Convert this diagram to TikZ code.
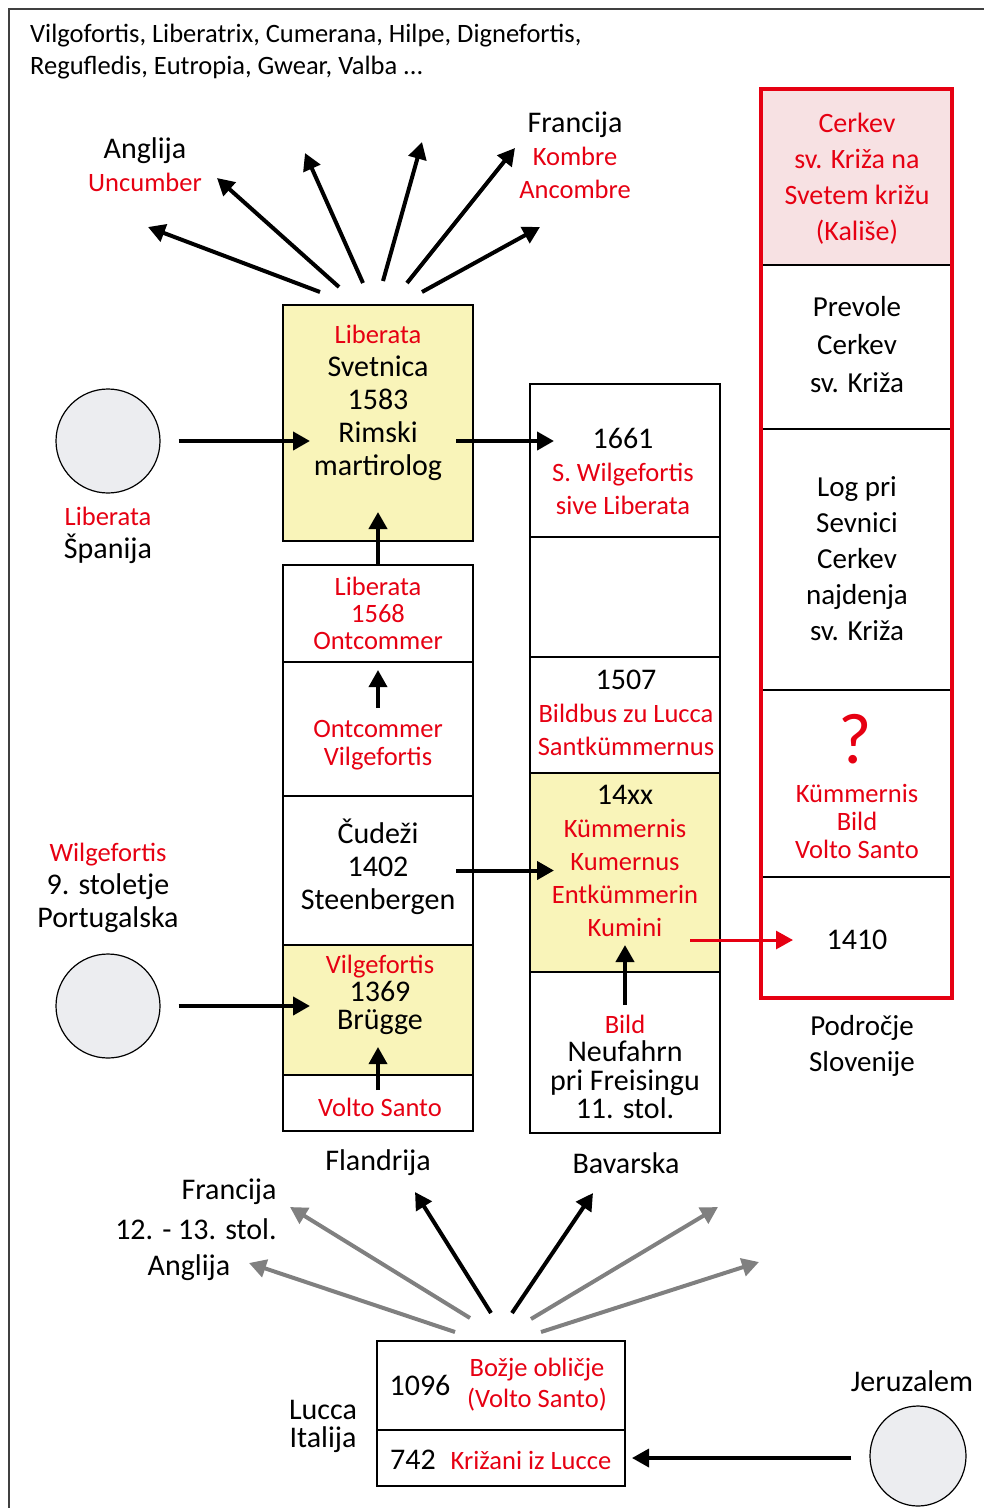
\documentclass[tikz,border=0pt]{standalone}
\usepackage{fontspec}
\setmainfont{Carlito}
\usepackage{xcolor}
\usetikzlibrary{arrows.meta,positioning,shapes.geometric}
\definecolor{txtred}{RGB}{230,0,18}
\definecolor{boxyellow}{RGB}{249,244,185}
\definecolor{boxpink}{RGB}{247,225,227}
\definecolor{circgray}{RGB}{236,237,240}
\definecolor{arrgray}{RGB}{128,128,128}
\newcommand{\rtxt}[1]{{\color{txtred}\fontsize{26.5}{31}\selectfont #1}}

\begin{document}
\begin{tikzpicture}[x=1pt,y=-1pt,
    cell/.style={draw, line width=1.3pt, minimum width=190pt, inner sep=0pt, outer sep=0pt, anchor=north west},
    lbl/.style={align=center, font=\fontsize{30}{33}\selectfont, inner sep=0pt},
    rlbl/.style={align=center, text=txtred, font=\fontsize{26.5}{31}\selectfont, inner sep=0pt},
    arr/.style={line width=4pt, -{Triangle[length=17pt,width=18pt]}},
    garr/.style={arr, arrgray},
    place/.style={circle, draw, line width=1.2pt, fill=circgray, minimum size=104pt, inner sep=0pt}]
    \useasboundingbox (0,0) rectangle (984,1508);
    \draw[line width=2pt, black!75] (9,1508) -- (9,9) -- (984,9);

    \node[lbl, align=left, anchor=west, font=\fontsize{26.5}{32}\selectfont] (names) at (30,52)
        {Vilgofortis, Liberatrix, Cumerana, Hilpe, Dignefortis,\\Regufledis, Eutropia, Gwear, Valba ...};

    % left column
    \node[cell, fill=boxyellow, minimum height=236pt] (svet) at (283,305) {};
    \node[cell, minimum height=97pt] (lib68) at (283,565) {};
    \node[cell, minimum height=134pt] (ontc) at (283,662) {};
    \node[cell, minimum height=149pt] (cud) at (283,796) {};
    \node[cell, fill=boxyellow, minimum height=130pt] (vil69) at (283,945) {};
    \node[cell, minimum height=56pt] (volto) at (283,1075) {};

    % right column
    \node[cell, minimum height=153pt] (y1661) at (530,384) {};
    \node[cell, minimum height=120pt] (blank) at (530,537) {};
    \node[cell, minimum height=116pt] (y1507) at (530,657) {};
    \node[cell, fill=boxyellow, minimum height=199pt] (y14xx) at (530,773) {};
    \node[cell, minimum height=161pt] (bild) at (530,972) {};

    % Slovenia column
    \node[cell, fill=boxpink, minimum width=191pt, minimum height=176pt] (kal) at (761,89) {};
    \node[cell, minimum width=191pt, minimum height=164pt] (prev) at (761,265) {};
    \node[cell, minimum width=191pt, minimum height=261pt] (log) at (761,429) {};
    \node[cell, minimum width=191pt, minimum height=187pt] (kum) at (761,690) {};
    \node[cell, minimum width=191pt, minimum height=121pt] (y1410) at (761,877) {};
    \draw[txtred, line width=3.5pt] (kal.north west) rectangle (y1410.south east);

    % Lucca
    \node[cell, minimum width=248pt, minimum height=89pt] (b1096) at (377,1341) {};
    \node[cell, minimum width=248pt, minimum height=56pt] (b742) at (377,1430) {};

    % places
    \node[place] (spain) at (108,441) {};
    \node[place] (port) at (108,1006) {};
    \node[place, ellipse, minimum width=96pt, minimum height=100pt] (jer) at (918,1456) {};

    % texts
    \node[lbl] (anglija) at (145,165) {Anglija\\\rtxt{Uncumber}};
    \node[lbl] (francija) at (575,155) {Francija\\\rtxt{Kombre}\\\rtxt{Ancombre}};
    \node[lbl] (tsvet) at (378,403) {\rtxt{Liberata}\\Svetnica\\1583\\Rimski\\martirolog};
    \node[lbl] (tspain) at (108,535) {\rtxt{Liberata}\\Španija};
    \node[lbl] (t1661) at (623,471) {1661\\\rtxt{S. Wilgefortis}\\\rtxt{sive Liberata}};
    \node[rlbl, font=\fontsize{26.5}{27}\selectfont] (tlib68) at (378,613) {Liberata\\1568\\Ontcommer};
    \node[rlbl, font=\fontsize{26.5}{28}\selectfont] (tontc) at (378,745) {Ontcommer\\Vilgefortis};
    \node[lbl] (tcud) at (378,867) {Čudeži\\1402\\Steenbergen};
    \node[lbl, font=\fontsize{30}{28}\selectfont] (tvil69) at (380,995) {\rtxt{Vilgefortis}\\1369\\Brügge};
    \node[rlbl] (tvolto) at (380,1107) {Volto Santo};
    \node[lbl] (t1507) at (626,713) {1507\\\rtxt{Bildbus zu Lucca}\\\rtxt{Santkümmernus}};
    \node[lbl] (t14xx) at (625,861) {14xx\\\rtxt{Kümmernis}\\\rtxt{Kumernus}\\\rtxt{Entkümmerin}\\\rtxt{Kumini}};
    \node[lbl, font=\fontsize{30}{28.5}\selectfont] (tbild) at (625,1067) {\rtxt{Bild}\\Neufahrn\\pri Freisingu\\11. stol.};
    \node[rlbl, font=\fontsize{28}{36}\selectfont] (tkal) at (857,179) {Cerkev\\sv. Križa na\\Svetem križu\\(Kališe)};
    \node[lbl, font=\fontsize{29}{38}\selectfont] (tprev) at (857,345) {Prevole\\Cerkev\\sv. Križa};
    \node[lbl, font=\fontsize{29}{36}\selectfont] (tlog) at (857,559) {Log pri\\Sevnici\\Cerkev\\najdenja\\sv. Križa};
    \node[rlbl, font=\fontsize{72}{72}\selectfont] (quest) at (855,739) {?};
    \node[rlbl, font=\fontsize{26.5}{28}\selectfont] (tkum) at (857,821) {Kümmernis\\Bild\\Volto Santo};
    \node[lbl] (t1410) at (857,940) {1410};
    \node[lbl, font=\fontsize{29}{36}\selectfont] (slo) at (862,1046) {Področje\\Slovenije};
    \node[lbl] (twilg) at (108,888) {\rtxt{Wilgefortis}\\9. stoletje\\Portugalska};
    \node[lbl] (flandrija) at (378,1163) {Flandrija};
    \node[lbl] (bavarska) at (626,1163) {Bavarska};
    \node[lbl] (francija2) at (229,1192) {Francija};
    \node[lbl] (stol) at (196,1229) {12. - 13. stol.};
    \node[lbl] (anglija2) at (189,1268) {Anglija};
    \node[lbl] (t1096) at (420,1385) {1096};
    \node[rlbl] (bozje) at (537,1385) {Božje obličje\\(Volto Santo)};
    \node[lbl] (t742) at (413,1460) {742};
    \node[rlbl] (krizani) at (531,1460) {Križani iz Lucce};
    \node[lbl, font=\fontsize{30}{28}\selectfont] (lucca) at (323,1426) {Lucca\\Italija};
    \node[lbl] (tjer) at (912,1381) {Jeruzalem};

    % arrow tips of the fans
    \coordinate (up1) at (148,227);
    \coordinate (up2) at (217,178);
    \coordinate (up3) at (305,153);
    \coordinate (up4) at (422,142);
    \coordinate (up5) at (515,148);
    \coordinate (up6) at (540,227);
    \coordinate (lo1) at (249,1263);
    \coordinate (lo2) at (290,1207);
    \coordinate (lo3) at (415,1192);
    \coordinate (lo4) at (593,1193);
    \coordinate (lo5) at (718,1207);
    \coordinate (lo6) at (759,1262);

    % spread of Liberata
    \draw[arr] ([shift={(-58,-13)}]svet.north) -- (up1);
    \draw[arr] ([shift={(-39,-18)}]svet.north) -- (up2);
    \draw[arr] ([shift={(-15,-22)}]svet.north) -- (up3);
    \draw[arr] ([shift={(5,-24)}]svet.north) -- (up4);
    \draw[arr] ([shift={(29,-22)}]svet.north) -- (up5);
    \draw[arr] ([shift={(44,-13)}]svet.north) -- (up6);

    % spread from Lucca
    \draw[garr] ([shift={(-46,-9)}]b1096.north) -- (lo1);
    \draw[garr] ([shift={(-31,-23)}]b1096.north) -- (lo2);
    \draw[arr] ([shift={(-10,-28)}]b1096.north) -- (lo3);
    \draw[arr] ([shift={(11,-28)}]b1096.north) -- (lo4);
    \draw[garr] ([shift={(30,-22)}]b1096.north) -- (lo5);
    \draw[garr] ([shift={(40,-9)}]b1096.north) -- (lo6);

    % links
    \draw[arr] ([xshift=18pt]spain.east) -- ([xshift=27pt]svet.west |- spain.east);
    \draw[arr] ([xshift=-17pt]svet.east |- spain.east) -- ([xshift=24pt]y1661.west |- spain.east);
    \draw[arr] (lib68.north) -- ([yshift=29pt]svet.south);
    \draw[arr, line width=3.5pt] ([yshift=-46pt]ontc.north) -- ([yshift=-8pt]ontc.north);
    \draw[arr] ([xshift=-17pt]cud.east) -- ([xshift=24pt]y14xx.west |- cud.east);
    \draw[arr] ([xshift=18pt]port.east) -- ([xshift=27pt]vil69.west |- port.east);
    \draw[arr, line width=3.5pt] ([yshift=-15pt]volto.north) -- ([yshift=28pt]vil69.south);
    \draw[arr] ([yshift=-33pt]bild.north) -- ([yshift=27pt]y14xx.south);
    \draw[arr, txtred, line width=3pt] ([xshift=-30pt]y14xx.east |- t1410) -- ([xshift=32pt]y1410.west |- t1410);
    \draw[arr, line width=3.5pt] ([xshift=-18pt]jer.west |- b742.east) -- ([xshift=7pt]b742.east);
\end{tikzpicture}
\end{document}
